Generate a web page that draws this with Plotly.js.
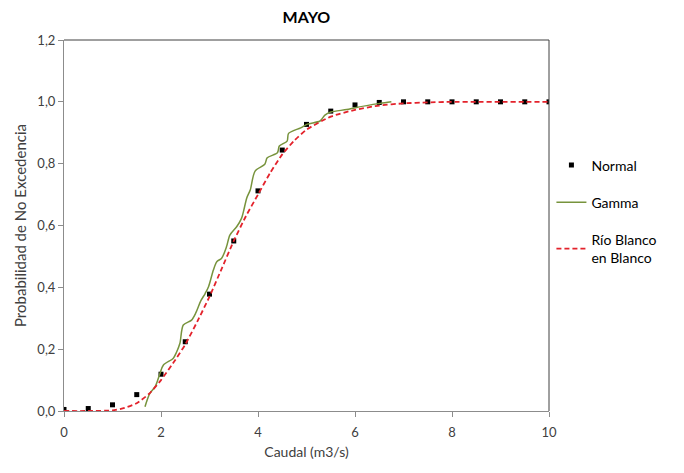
<!DOCTYPE html>
<html>
<head>
<meta charset="utf-8">
<script src="https://cdn.plot.ly/plotly-3.0.1.min.js"></script>
<style>html,body{margin:0;padding:0;background:#fff;}#chart{width:684px;height:473px;}</style>
</head>
<body>
<div id="chart"></div>
<script>
// Normal (markers)
const normalX = [0, 0.5, 1.0, 1.5, 2.0, 2.5, 3.0, 3.5, 4.0, 4.5, 5.0, 5.5, 6.0, 6.5, 7.0, 7.5, 8.0, 8.5, 9.0, 9.5, 10.0];
const normalY = [0.005, 0.008, 0.02, 0.053, 0.119, 0.224, 0.378, 0.55, 0.712, 0.844, 0.927, 0.97, 0.99, 0.998, 1.0, 1.0, 1.0, 1.0, 1.0, 1.0, 1.0];

// Gamma (smoothed line)
const gammaX = [1.67, 1.77, 1.88, 1.98, 2.05, 2.25, 2.32, 2.39, 2.46, 2.63, 2.72, 2.82, 2.91, 2.98, 3.08, 3.15, 3.25, 3.35, 3.42, 3.56, 3.66, 3.70, 3.77, 3.84, 3.94, 4.14, 4.19, 4.40, 4.44, 4.60, 4.63, 4.88, 5.02, 5.28, 5.38, 5.50, 5.83, 6.03, 6.52, 6.75];
const gammaY = [0.014, 0.057, 0.079, 0.122, 0.149, 0.170, 0.190, 0.219, 0.278, 0.294, 0.318, 0.356, 0.380, 0.402, 0.456, 0.483, 0.494, 0.531, 0.569, 0.596, 0.623, 0.645, 0.690, 0.715, 0.776, 0.798, 0.819, 0.835, 0.857, 0.873, 0.898, 0.916, 0.928, 0.938, 0.957, 0.967, 0.975, 0.982, 0.995, 1.0];

// Río Blanco en Blanco (dashed)
const rioX = [0, 0.5, 1.0, 1.25, 1.5, 1.75, 2.0, 2.25, 2.5, 2.75, 3.0, 3.25, 3.5, 3.75, 4.0, 4.25, 4.5, 4.75, 5.0, 5.5, 6.0, 6.5, 7.0, 7.5, 8.0, 8.5, 9.0, 9.5, 10.0];
const rioY = [0, 0, 0.002, 0.01, 0.025, 0.055, 0.10, 0.155, 0.215, 0.29, 0.37, 0.46, 0.55, 0.63, 0.70, 0.77, 0.83, 0.875, 0.91, 0.952, 0.974, 0.988, 0.995, 0.998, 1.0, 1.0, 1.0, 1.0, 1.0];

const seriesNames = ['Normal', 'Gamma', 'Río Blanco<br>en Blanco'];
const xTicks = [0, 2, 4, 6, 8, 10];
const yTicks = [0, 0.2, 0.4, 0.6, 0.8, 1.0, 1.2];

const FONT = 'Lato, "Open Sans", sans-serif';

const traces = [
  {x: normalX, y: normalY, name: seriesNames[0], type: 'scatter', mode: 'markers', legendgroup: 'a',
   marker: {symbol: 'square', size: 5, color: '#000000'}},
  {x: gammaX, y: gammaY, name: seriesNames[1], type: 'scatter', mode: 'lines', legendgroup: 'b',
   line: {color: '#77933C', width: 1.5, shape: 'spline', smoothing: 0.8}},
  {x: rioX, y: rioY, name: seriesNames[2], type: 'scatter', mode: 'lines', legendgroup: 'c',
   line: {color: '#E3222B', width: 1.8, dash: '5px,3px', shape: 'spline', smoothing: 0.6}}
];

const layout = {
  width: 684, height: 473,
  margin: {l: 64, r: 135, t: 40, b: 62},
  paper_bgcolor: '#ffffff', plot_bgcolor: '#ffffff',
  separators: ',.',
  font: {family: FONT, size: 13, color: '#404040'},
  title: {text: '<b>MAYO</b>', font: {family: FONT, size: 16, color: '#000000'}, x: 0.448, xanchor: 'center', y: 0.963, yanchor: 'middle'},
  xaxis: {
    range: [0, 10], tickvals: xTicks, ticktext: xTicks.map(String),
    showgrid: false, zeroline: false, showline: true, linecolor: '#8c8c8c', linewidth: 1,
    ticks: 'outside', ticklen: 5, tickcolor: '#8c8c8c', ticklabelstandoff: 4,
    tickfont: {family: FONT, size: 13, color: '#404040'},
    title: {text: 'Caudal (m3/s)', font: {family: FONT, size: 14, color: '#404040'}, standoff: 8}
  },
  yaxis: {
    range: [0, 1.2], tickvals: yTicks, tickformat: '.1f',
    showgrid: false, zeroline: false, showline: true, linecolor: '#8c8c8c', linewidth: 1,
    ticks: 'outside', ticklen: 5, tickcolor: '#8c8c8c',
    tickfont: {family: FONT, size: 13, color: '#404040'},
    title: {text: 'Probabilidad de No Excedencia', font: {family: FONT, size: 15, color: '#404040'}, standoff: 7}
  },
  shapes: [
    {type: 'line', xref: 'paper', yref: 'paper', x0: 0, x1: 1, y0: 1, y1: 1, line: {color: '#404040', width: 1}},
    {type: 'line', xref: 'paper', yref: 'paper', x0: 1, x1: 1, y0: 0, y1: 1, line: {color: '#404040', width: 1}}
  ],
  showlegend: true,
  legend: {
    x: 1.005, xanchor: 'left', y: 0.705, yanchor: 'top',
    font: {family: FONT, size: 14, color: '#000000'},
    traceorder: 'grouped', tracegroupgap: 16,
    bgcolor: 'rgba(0,0,0,0)'
  }
};

Plotly.newPlot('chart', traces, layout, {displayModeBar: false, staticPlot: true});
</script>
</body>
</html>
